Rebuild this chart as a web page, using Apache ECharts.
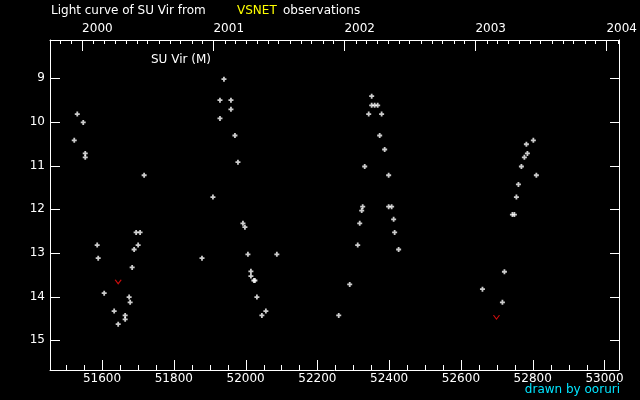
<!DOCTYPE html>
<html>
<head>
<meta charset="utf-8">
<script src="https://cdn.jsdelivr.net/npm/echarts@6/dist/echarts.min.js"></script>
<style>
html,body{margin:0;padding:0;background:#000;}
#chart{width:640px;height:400px;}
</style>
</head>
<body>
<div id="chart"></div>
<script>
// Observations (JD - 2400000, visual magnitude)
const obsJD = [51531, 51547.6, 51522.6, 51553.2, 51553.2, 51717.3, 51695, 51706, 51586.5, 51700.6,
  51689.4, 51589.3, 51683.9, 51606, 51675.5, 51678.3, 51633.8, 51664.4, 51664.4, 51645,
  51939.7, 51928.6, 51959.2, 51959.2, 51928.6, 51970.3, 51978.7, 51909, 51992.6, 51998.1,
  51878.5, 52006.5, 52087.1, 52014.8, 52014.8, 52023, 52026, 52031.5, 52056.5, 52045.4,
  52351.3, 52351.3, 52359.6, 52368, 52343, 52379, 52373.6, 52387.5, 52331.9, 52398.6,
  52326.3, 52323.5, 52398.6, 52406.9, 52412.5, 52318, 52415.3, 52312.4, 52426.4, 52290.1,
  52259.5, 52801.8, 52782.4, 52785.2, 52776.8, 52768.5, 52810.2, 52760.2, 52754.6, 52743.5,
  52749, 52721.2, 52660, 52715.6];
const obsMag = [9.82, 10.01, 10.42, 10.72, 10.81, 11.22, 12.53, 12.53, 12.82, 12.82,
  12.92, 13.12, 13.33, 13.92, 14.01, 14.13, 14.33, 14.43, 14.52, 14.63,
  9.02, 9.50, 9.50, 9.71, 9.92, 10.31, 10.92, 11.72, 12.32, 12.41,
  13.12, 13.03, 13.03, 13.42, 13.53, 13.63, 13.63, 14.01, 14.33, 14.43,
  9.41, 9.62, 9.62, 9.62, 9.82, 9.82, 10.31, 10.63, 11.02, 11.22,
  11.94, 12.03, 11.94, 11.94, 12.23, 12.32, 12.53, 12.82, 12.92, 13.72,
  14.43, 10.42, 10.51, 10.72, 10.81, 11.02, 11.22, 11.43, 11.72, 12.12,
  12.12, 13.43, 13.83, 14.13];
// Fainter-than (upper limit) observations
const limJD = [51645, 52699];
const limMag = [13.66, 14.47];

// Axis tick labels
const jdLabels = [51600, 51800, 52000, 52200, 52400, 52600, 52800, 53000];
const jdMinor = [51500, 51550, 51600, 51650, 51700, 51750, 51800, 51850, 51900, 51950, 52000,
  52050, 52100, 52150, 52200, 52250, 52300, 52350, 52400, 52450, 52500, 52550, 52600,
  52650, 52700, 52750, 52800, 52850, 52900, 52950, 53000];
const magLabels = [9, 10, 11, 12, 13, 14, 15];
const yearLabels = [2000, 2001, 2002, 2003, 2004];

const JD_MIN = 51455, JD_MAX = 53040;
const MAG_MIN = 8.123, MAG_MAX = 15.68;

function dateToJD(y, m) { return Date.UTC(y, m, 1) / 86400000 + 40587.5; }
const yearJD = yearLabels.map(y => dateToJD(y, 0));
const monthJD = [];
for (let y = 1999; y <= 2004; y++) for (let m = 1; m < 12; m++) {
  const v = dateToJD(y, m);
  if (v > JD_MIN && v < JD_MAX) monthJD.push(v);
}

const FONT = 'DejaVu Sans';
const chart = echarts.init(document.getElementById('chart'), null, {renderer: 'canvas'});
const baseX = {type: 'value', min: JD_MIN, max: JD_MAX, splitLine: {show: false},
  axisTick: {show: false}, axisLine: {show: true, lineStyle: {color: '#fff', width: 1}}};
const baseY = {type: 'value', min: MAG_MIN, max: MAG_MAX, inverse: true, splitLine: {show: false},
  axisTick: {show: false}, axisLine: {show: true, lineStyle: {color: '#fff', width: 1}}};
const plus = 'path://M1.6,0H3.4V1.6H5V3.4H3.4V5H1.6V3.4H0V1.6H1.6Z';
const GRID = {left: 50, right: 20, top: 40, bottom: 30};
const texts = [
  {type: 'text', left: 51, top: 5, style: {text: 'Light curve of SU Vir from', fill: '#fff', font: '12px "DejaVu Sans"'}},
  {type: 'text', left: 237, top: 5, style: {text: 'VSNET', fill: '#ffff00', font: '12px "DejaVu Sans"'}},
  {type: 'text', left: 283, top: 5, style: {text: 'observations', fill: '#fff', font: '12px "DejaVu Sans"'}},
  {type: 'text', left: 151, top: 54, style: {text: 'SU Vir (M)', fill: '#fff', font: '12px "DejaVu Sans"'}},
  {type: 'text', right: 20, top: 384, style: {text: 'drawn by ooruri', fill: '#00e5ff', font: '12px "DejaVu Sans"'}}
];
chart.setOption({
  backgroundColor: '#000',
  animation: false,
  grid: GRID,
  xAxis: [
    Object.assign({}, baseX, {position: 'bottom',
      axisLabel: {show: true, customValues: jdLabels, color: '#fff', fontFamily: FONT, fontSize: 12, margin: 3,
        formatter: v => String(v)}}),
    Object.assign({}, baseX, {position: 'top',
      axisLabel: {show: true, customValues: yearJD, align: 'left', color: '#fff', fontFamily: FONT, fontSize: 12, margin: 5,
        formatter: v => String(yearLabels[yearJD.indexOf(v)])}})
  ],
  yAxis: [
    Object.assign({}, baseY, {position: 'left',
      axisLabel: {show: true, customValues: magLabels, color: '#fff', fontFamily: FONT, fontSize: 12, margin: 5}}),
    Object.assign({}, baseY, {position: 'right', axisLabel: {show: false}})
  ],
  series: [
    {type: 'scatter', xAxisIndex: 0, yAxisIndex: 0, symbol: plus, symbolSize: 5,
      itemStyle: {color: '#fff'}, data: obsJD.map((d, i) => [d, obsMag[i]])},
    {type: 'scatter', xAxisIndex: 0, yAxisIndex: 0, symbol: 'path://M0,0L2.5,3L5,0', symbolSize: [6, 4],
      itemStyle: {color: 'rgba(0,0,0,0)', borderColor: '#ff1010', borderWidth: 1},
      data: limJD.map((d, i) => [d, limMag[i]])}
  ],
  graphic: texts
});

// Tick marks, positioned through the chart's own axis scales
const gTop = GRID.top, gBottom = 400 - GRID.bottom, gLeft = GRID.left, gRight = 640 - GRID.right;
const tickEls = [];
const px = v => Math.round(chart.convertToPixel({xAxisIndex: 0}, v));
const py = v => Math.round(chart.convertToPixel({yAxisIndex: 0}, v));
function rect(x, y, w, h) {
  tickEls.push({type: 'rect', silent: true, z: 100, shape: {x: x, y: y, width: w, height: h}, style: {fill: '#fff'}});
}
jdMinor.forEach(v => { const len = jdLabels.indexOf(v) >= 0 ? 10 : 5; rect(px(v), gBottom - len, 1, len); });
yearJD.forEach(v => rect(px(v), gTop, 1, 11));
monthJD.forEach(v => rect(px(v), gTop, 1, 4));
magLabels.forEach(v => { rect(gLeft, py(v), 10, 1); rect(gRight - 10, py(v), 10, 1); });
chart.setOption({graphic: texts.concat(tickEls)});
</script>
</body>
</html>
